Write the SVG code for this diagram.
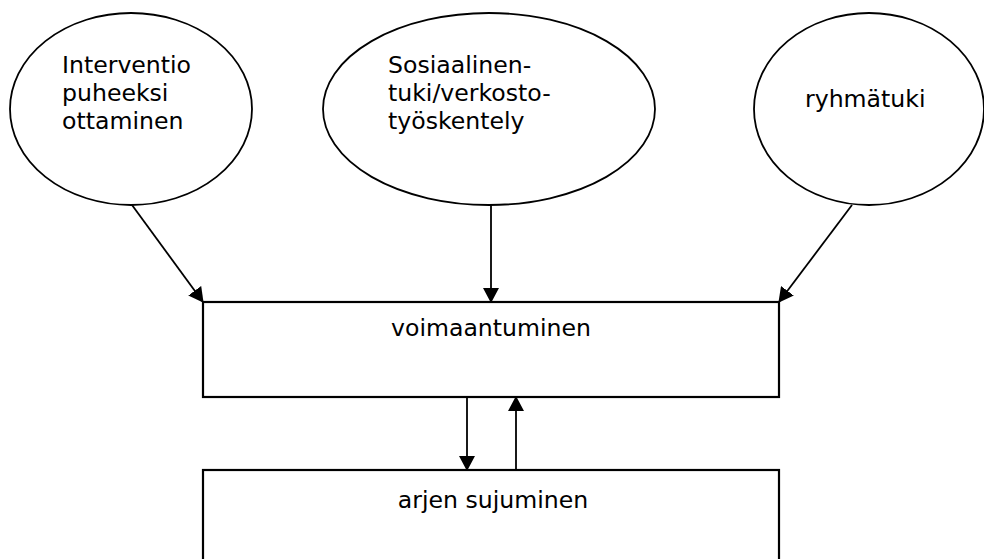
<svg xmlns="http://www.w3.org/2000/svg" width="984" height="559" viewBox="0 0 984 559">
<style>
.shape{fill:#fff;stroke:#000;stroke-width:1.8}
.box{fill:#fff;stroke:#000;stroke-width:2.2}
.lbl{font-family:"DejaVu Sans",Verdana,sans-serif;font-size:23.6px;fill:#000}
.conn{stroke:#000;stroke-width:1.8;fill:none;marker-end:url(#ah)}
</style>
<defs>
<marker id="ah" markerWidth="15" markerHeight="16" refX="14" refY="8" orient="auto" markerUnits="userSpaceOnUse">
<path d="M0,0 L15,8 L0,16 Z" fill="#000"/>
</marker>
</defs>
<rect width="984" height="559" fill="#fff"/>
<g id="node-interventio">
<ellipse class="shape" cx="131" cy="109" rx="121" ry="96"/>
<text class="lbl" x="62" y="73">Interventio</text>
<text class="lbl" x="62" y="101">puheeksi</text>
<text class="lbl" x="62" y="129">ottaminen</text>
</g>
<g id="node-sosiaalinen">
<ellipse class="shape" cx="489" cy="109" rx="166" ry="96"/>
<text class="lbl" x="388" y="73">Sosiaalinen-</text>
<text class="lbl" x="388" y="101">tuki/verkosto-</text>
<text class="lbl" x="388" y="129">työskentely</text>
</g>
<g id="node-ryhmatuki">
<ellipse class="shape" cx="869" cy="109" rx="115" ry="96"/>
<text class="lbl" x="805" y="107">ryhmätuki</text>
</g>
<g id="node-voimaantuminen">
<rect class="box" x="203" y="302" width="576" height="95"/>
<text class="lbl" x="491" y="336" text-anchor="middle">voimaantuminen</text>
</g>
<g id="node-arjen">
<rect class="box" x="203" y="470" width="576" height="100"/>
<text class="lbl" x="493" y="508" text-anchor="middle">arjen sujuminen</text>
</g>
<g id="connectors">
<line class="conn" x1="132" y1="205" x2="203" y2="302"/>
<line class="conn" x1="491" y1="205" x2="491" y2="302"/>
<line class="conn" x1="852" y1="205" x2="779" y2="302"/>
<line class="conn" x1="467" y1="397" x2="467" y2="470"/>
<line class="conn" x1="516" y1="470" x2="516" y2="397"/>
</g>
</svg>
